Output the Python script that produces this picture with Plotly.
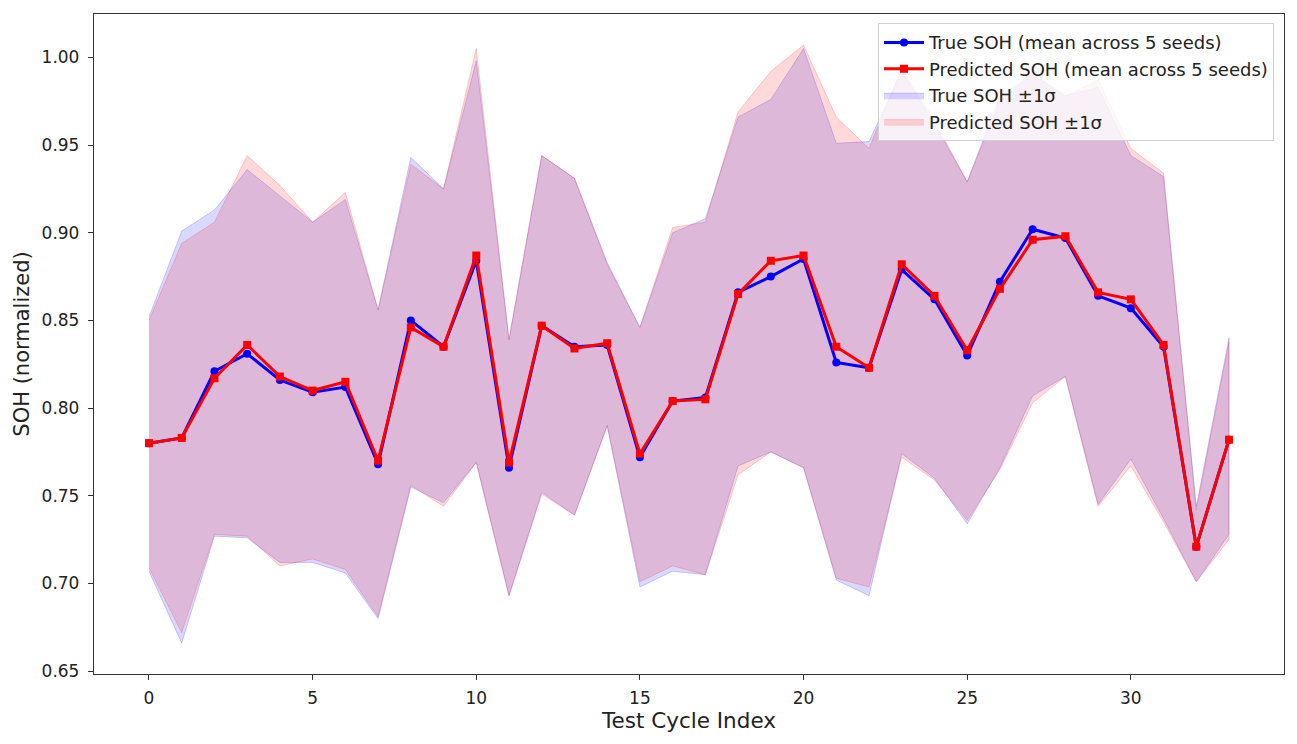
import plotly.graph_objects as go

# test cycle index
cycles = list(range(34))

# mean SOH across 5 seeds
true_mean = [0.780, 0.783, 0.821, 0.831, 0.816, 0.809, 0.812, 0.768, 0.850, 0.835,
             0.884, 0.766, 0.847, 0.835, 0.836, 0.772, 0.804, 0.806, 0.866, 0.875,
             0.885, 0.826, 0.823, 0.879, 0.862, 0.830, 0.872, 0.902, 0.897, 0.864,
             0.857, 0.835, 0.721, 0.782]
pred_mean = [0.780, 0.783, 0.817, 0.836, 0.818, 0.810, 0.815, 0.770, 0.846, 0.835,
             0.887, 0.769, 0.847, 0.834, 0.837, 0.774, 0.804, 0.805, 0.865, 0.884,
             0.887, 0.835, 0.823, 0.882, 0.864, 0.833, 0.868, 0.896, 0.898, 0.866,
             0.862, 0.836, 0.721, 0.782]

# +/- 1 sigma bounds
true_upper = [0.852, 0.901, 0.913, 0.936, 0.921, 0.906, 0.919, 0.856, 0.943, 0.925,
              0.998, 0.839, 0.944, 0.931, 0.883, 0.846, 0.900, 0.908, 0.966, 0.976,
              1.005, 0.951, 0.952, 0.992, 0.962, 0.929, 0.978, 0.990, 0.978, 0.983,
              0.944, 0.932, 0.744, 0.840]
pred_upper = [0.850, 0.894, 0.906, 0.944, 0.927, 0.906, 0.923, 0.856, 0.939, 0.925,
              1.005, 0.839, 0.944, 0.931, 0.882, 0.846, 0.903, 0.906, 0.969, 0.992,
              1.007, 0.966, 0.948, 0.994, 0.964, 0.929, 0.975, 0.991, 0.978, 0.987,
              0.948, 0.934, 0.742, 0.838]
true_lower = [0.707, 0.666, 0.727, 0.726, 0.712, 0.712, 0.706, 0.680, 0.755, 0.746,
              0.769, 0.693, 0.752, 0.739, 0.790, 0.698, 0.707, 0.705, 0.767, 0.775,
              0.766, 0.702, 0.693, 0.774, 0.760, 0.734, 0.766, 0.807, 0.818, 0.745,
              0.771, 0.737, 0.701, 0.728]
pred_lower = [0.709, 0.672, 0.728, 0.727, 0.710, 0.714, 0.708, 0.681, 0.756, 0.744,
              0.769, 0.693, 0.751, 0.739, 0.790, 0.701, 0.710, 0.705, 0.762, 0.775,
              0.766, 0.703, 0.698, 0.772, 0.759, 0.736, 0.765, 0.803, 0.818, 0.744,
              0.767, 0.735, 0.701, 0.725]

font = "DejaVu Sans"
fig = go.Figure()

# bands first so the lines sit on top
for name, up, lo, rgb in [("True SOH ±1σ", true_upper, true_lower, "0,0,255"),
                          ("Predicted SOH ±1σ", pred_upper, pred_lower, "255,0,0")]:
    fig.add_trace(go.Scatter(
        x=cycles + cycles[::-1], y=up + lo[::-1],
        fill="toself", fillcolor="rgba(%s,0.15)" % rgb,
        line=dict(color="rgba(%s,0.18)" % rgb, width=1),
        mode="lines", name=name, hoverinfo="skip", legendrank=3))

fig.add_trace(go.Scatter(x=cycles, y=true_mean, mode="lines+markers",
                         name="True SOH (mean across 5 seeds)",
                         line=dict(color="blue", width=3),
                         marker=dict(symbol="circle", size=8, color="blue"),
                         legendrank=1))
fig.add_trace(go.Scatter(x=cycles, y=pred_mean, mode="lines+markers",
                         name="Predicted SOH (mean across 5 seeds)",
                         line=dict(color="red", width=3),
                         marker=dict(symbol="square", size=8, color="red"),
                         legendrank=2))

axis_common = dict(showgrid=False, zeroline=False, showline=True, mirror=True,
                   linecolor="#333", linewidth=1.3, ticks="outside", ticklen=5,
                   tickcolor="#333", tickfont=dict(family=font, size=17, color="#222"))

# page body adds 8px, so the figure is sized and margined to compensate
fig.update_layout(
    width=1289, height=736,
    margin=dict(l=86, r=13, t=6, b=70),
    plot_bgcolor="white", paper_bgcolor="white",
    font=dict(family=font, color="#222"),
    xaxis=dict(range=[-1.68, 34.68], dtick=5, tick0=0, ticklabelstandoff=3,
               title=dict(text="Test Cycle Index", font=dict(family=font, size=21.5),
                          standoff=4),
               **axis_common),
    yaxis=dict(range=[0.6484, 1.0247], dtick=0.05, tick0=0.65, tickformat=".2f",
               ticklabelstandoff=5,
               title=dict(text="SOH (normalized)", font=dict(family=font, size=21),
                          standoff=6),
               **axis_common),
    legend=dict(x=0.9916, y=0.986, xanchor="right", yanchor="top",
                bgcolor="rgba(255,255,255,0.8)", bordercolor="#d0d0d0", borderwidth=1,
                font=dict(family=font, size=18), tracegroupgap=0,
                itemwidth=40),
    showlegend=True,
)

fig.write_html("out.html")
